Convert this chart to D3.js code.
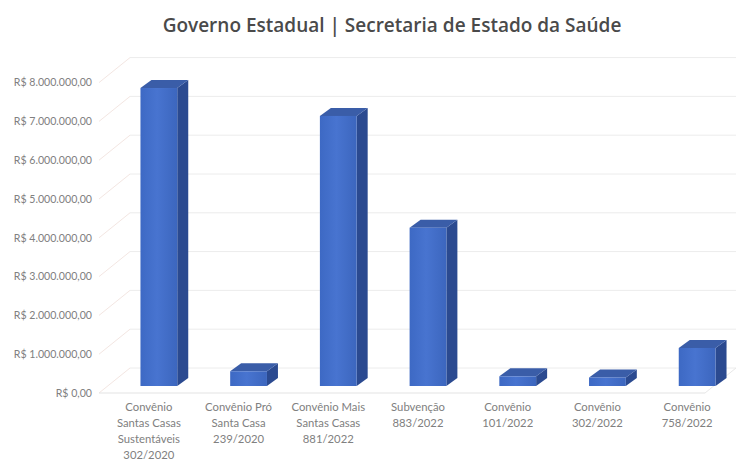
<!DOCTYPE html>
<html><head><meta charset="utf-8">
<script src="https://cdn.jsdelivr.net/npm/d3@7"></script>
<style>html,body{margin:0;padding:0;background:#fff;}svg{display:block;}</style>
</head><body>
<svg id="chart" width="755" height="461"></svg>
<script>
const categories = [
  ["Convênio","Santas Casas","Sustentáveis","302/2020"],
  ["Convênio Pró","Santa Casa","239/2020"],
  ["Convênio Mais","Santas Casas","881/2022"],
  ["Subvenção","883/2022"],
  ["Convênio","101/2022"],
  ["Convênio","302/2022"],
  ["Convênio","758/2022"]
];
const values = [7680000, 380000, 6960000, 4080000, 250000, 220000, 980000];
const tickValues = [0,1000000,2000000,3000000,4000000,5000000,6000000,7000000,8000000];
const tickLabels = ["R$ 0,00","R$ 1.000.000,00","R$ 2.000.000,00","R$ 3.000.000,00","R$ 4.000.000,00","R$ 5.000.000,00","R$ 6.000.000,00","R$ 7.000.000,00","R$ 8.000.000,00"];
const title = "Governo Estadual | Secretaria de Estado da Saúde";

const svg = d3.select("#chart");
const font = "Lato, 'Open Sans', sans-serif";
const keys = categories.map((c,i)=>"c"+i);

// scales
const yFront = d3.scaleLinear().domain([0,8000000]).range([386, 75.6]);
const yLabel = d3.scaleLinear().domain([0,8000000]).range([393, 82.6]);
const yBack = d3.scaleLinear().domain([0,8000000]).range([368, 57.6]);
const x = d3.scaleBand().domain(keys).range([114,742]).paddingInner(0.59).paddingOuter(0.295);
const dx = 11, dy = -8;

// gradient
const defs = svg.append("defs");
const g1 = defs.append("linearGradient").attr("id","front").attr("x1","0").attr("x2","1").attr("y1","0").attr("y2","0");
g1.append("stop").attr("offset","0").attr("stop-color","#3d69c4");
g1.append("stop").attr("offset","0.45").attr("stop-color","#4874d0");
g1.append("stop").attr("offset","1").attr("stop-color","#3c66be");

// title
svg.append("text").attr("x",392).attr("y",32).attr("text-anchor","middle")
  .attr("font-family","'Open Sans', sans-serif").attr("font-size",19).attr("font-weight",600)
  .attr("fill","#4a4a4a").text(title);

// walls gridlines
const gridColor = "#ececec";
const backLeft = 130, backRight = 736, frontLeft = 99;
const grid = svg.append("g");
tickValues.forEach(v=>{
  grid.append("line").attr("x1",frontLeft).attr("y1",yLabel(v)).attr("x2",backLeft).attr("y2",yBack(v))
    .attr("stroke","#f3e6e2").attr("stroke-width",1);
  grid.append("line").attr("x1",backLeft).attr("y1",yBack(v)).attr("x2",backRight).attr("y2",yBack(v))
    .attr("stroke",gridColor).attr("stroke-width",1);
});
// floor front edge
grid.append("line").attr("x1",frontLeft).attr("y1",yLabel(0)).attr("x2",backRight-31).attr("y2",yLabel(0))
  .attr("stroke","#e4e4e4").attr("stroke-width",1.2);
grid.append("line").attr("x1",backRight-31).attr("y1",yLabel(0)).attr("x2",backRight).attr("y2",yBack(0))
  .attr("stroke","#e8e8e8").attr("stroke-width",1);

// y tick labels
svg.append("g").selectAll("text").data(tickValues).join("text")
  .attr("x",92).attr("y",v=>yLabel(v)).attr("dy","0.35em").attr("text-anchor","end")
  .attr("font-family",font).attr("font-size",10.6).attr("fill","#808080")
  .text((v,i)=>tickLabels[i]);

// bars
const bars = svg.append("g").selectAll("g").data(values).join("g");
bars.each(function(v,i){
  const g = d3.select(this);
  const x0 = x(keys[i]), w = x.bandwidth();
  const top = yFront(v), base = yFront(0);
  g.append("polygon").attr("points",[[x0+w,top],[x0+w+dx,top+dy],[x0+w+dx,base+dy],[x0+w,base]].join(" "))
    .attr("fill","#2b4a90");
  g.append("polygon").attr("points",[[x0,top],[x0+dx,top+dy],[x0+w+dx,top+dy],[x0+w,top]].join(" "))
    .attr("fill","#3a5da8");
  g.append("rect").attr("x",x0).attr("y",top).attr("width",w).attr("height",base-top)
    .attr("fill","url(#front)");
});

// category labels
const lab = svg.append("g");
categories.forEach((lines,i)=>{
  const cx = x(keys[i]) + x.bandwidth()/2 - 10;
  const t = lab.append("text").attr("text-anchor","middle").attr("font-family",font)
    .attr("font-size",11.3).attr("fill","#808080");
  lines.forEach((ln,j)=>{
    t.append("tspan").attr("x",cx).attr("y",411 + j*16).text(ln);
  });
});
</script>
</body></html>
